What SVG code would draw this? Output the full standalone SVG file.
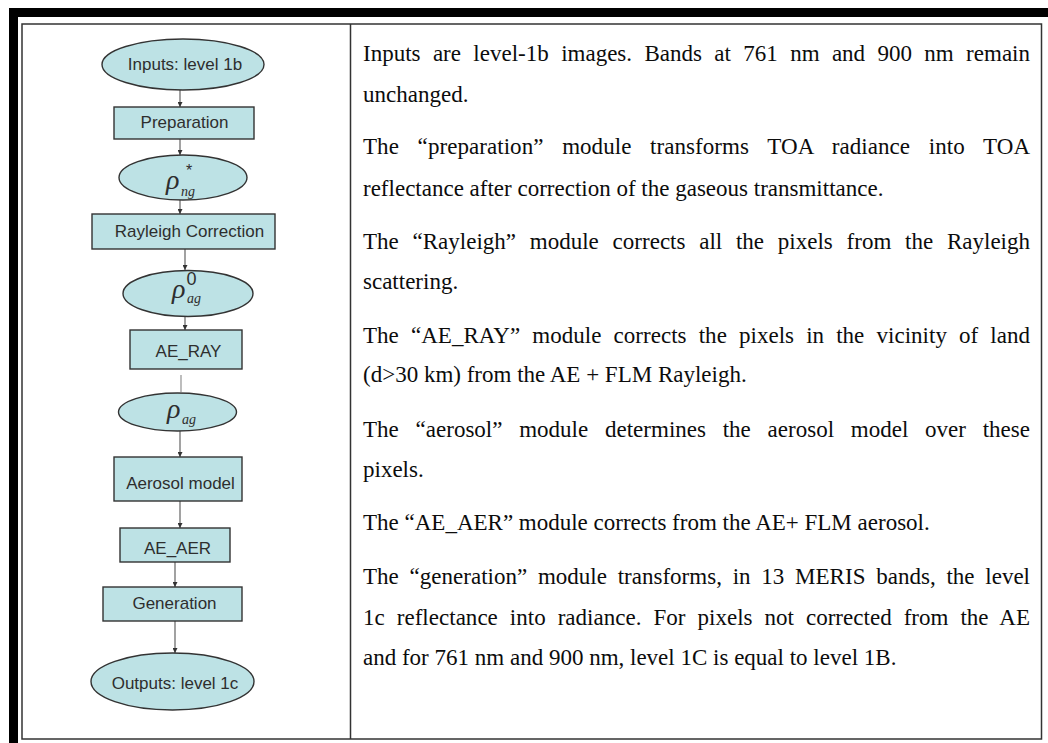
<svg xmlns="http://www.w3.org/2000/svg" width="1048" height="743" viewBox="0 0 1048 743">
  <style>
    .node { fill: #bde2e5; stroke: #333; stroke-width: 1.4; }
    .lbl { font-family: "Liberation Sans", Arial, sans-serif; font-size: 17px; fill: #2e2e2e; text-anchor: middle; }
    .rho { font-family: "Liberation Serif", "Times New Roman", serif; font-style: italic; fill: #2e2e2e; }
    .sup { font-family: "Liberation Sans", Arial, sans-serif; fill: #2e2e2e; }
    .flow { stroke: #555; stroke-width: 1.1; fill: none; }
    .desc { font-family: "Liberation Serif", "Times New Roman", serif; font-size: 23px; fill: #0c0c0c; }
  </style>
  <defs>
    <marker id="tip" viewBox="0 0 6 6" refX="6" refY="3" markerWidth="5" markerHeight="5" markerUnits="userSpaceOnUse" orient="auto">
      <path d="M0,0 L6,3 L0,6 Z" fill="#333"/>
    </marker>
  </defs>

  <rect width="1048" height="743" fill="#ffffff"/>

  <!-- page frame -->
  <g id="frame">
    <rect x="9" y="8" width="1039" height="9" fill="#000"/>
    <rect x="9" y="8" width="9" height="735" fill="#000"/>
    <rect x="22" y="24" width="1019.5" height="715" fill="none" stroke="#333" stroke-width="1.5"/>
    <line x1="350.5" y1="24" x2="350.5" y2="739" stroke="#333" stroke-width="1.5"/>
  </g>

  <!-- flow connectors -->
  <g id="connectors">
    <line class="flow" x1="180" y1="90" x2="180" y2="107" marker-end="url(#tip)"/>
    <line class="flow" x1="180" y1="139" x2="180" y2="155" marker-end="url(#tip)"/>
    <line class="flow" x1="180" y1="200" x2="180" y2="214" marker-end="url(#tip)"/>
    <line class="flow" x1="185" y1="249" x2="185" y2="270" marker-end="url(#tip)"/>
    <line class="flow" x1="185" y1="316" x2="185" y2="330" marker-end="url(#tip)"/>
    <line x1="181" y1="375" x2="181" y2="392" stroke="#888" stroke-width="1.1"/>
    <line class="flow" x1="180" y1="431" x2="180" y2="457" marker-end="url(#tip)"/>
    <line class="flow" x1="180" y1="501" x2="180" y2="528" marker-end="url(#tip)"/>
    <line class="flow" x1="175" y1="562" x2="175" y2="587" marker-end="url(#tip)"/>
    <line class="flow" x1="175" y1="621" x2="175" y2="653" marker-end="url(#tip)"/>
  </g>

  <!-- flowchart nodes -->
  <g id="inputs">
    <ellipse class="node" cx="183" cy="64.5" rx="81" ry="25.5"/>
    <text class="lbl" x="185" y="70">Inputs: level 1b</text>
  </g>
  <g id="preparation">
    <rect class="node" x="114" y="107" width="140" height="32"/>
    <text class="lbl" x="184.5" y="128">Preparation</text>
  </g>
  <g id="rho-ng">
    <ellipse class="node" cx="183" cy="177.5" rx="64" ry="22.5"/>
    <text class="rho" x="166" y="188.5" font-size="28">ρ</text>
    <text class="rho" x="181" y="196" font-size="14">ng</text>
    <text class="sup" x="186" y="176" font-size="16">*</text>
  </g>
  <g id="rayleigh">
    <rect class="node" x="92" y="214" width="183" height="35"/>
    <text class="lbl" x="189.5" y="237">Rayleigh Correction</text>
  </g>
  <g id="rho-ag0">
    <ellipse class="node" cx="188" cy="293.5" rx="65" ry="23"/>
    <text class="rho" x="172" y="297.5" font-size="28">ρ</text>
    <text class="rho" x="187" y="303" font-size="14">ag</text>
    <text class="sup" x="186.5" y="285" font-size="18">0</text>
  </g>
  <g id="ae-ray">
    <rect class="node" x="130" y="330" width="112" height="39"/>
    <text class="lbl" x="188.5" y="357">AE_RAY</text>
  </g>
  <g id="rho-ag">
    <ellipse class="node" cx="177.5" cy="412" rx="59" ry="19"/>
    <text class="rho" x="167" y="417.5" font-size="28">ρ</text>
    <text class="rho" x="182" y="424" font-size="14">ag</text>
  </g>
  <g id="aerosol">
    <rect class="node" x="114" y="457" width="128" height="44"/>
    <text class="lbl" x="180.5" y="489">Aerosol model</text>
  </g>
  <g id="ae-aer">
    <rect class="node" x="120" y="528" width="110" height="34"/>
    <text class="lbl" x="177.5" y="554">AE_AER</text>
  </g>
  <g id="generation">
    <rect class="node" x="103" y="587" width="139" height="34"/>
    <text class="lbl" x="174.5" y="609">Generation</text>
  </g>
  <g id="outputs">
    <ellipse class="node" cx="172.5" cy="681.5" rx="81.5" ry="28.5"/>
    <text class="lbl" x="175" y="689">Outputs: level 1c</text>
  </g>

  <!-- module descriptions (justified column) -->
  <g id="descriptions" class="desc">
    <text x="363" y="61" word-spacing="6.6" textLength="667" lengthAdjust="spacing">Inputs are level-1b images. Bands at 761 nm and 900 nm remain</text>
    <text x="363" y="102">unchanged.</text>
    <text x="363" y="154" word-spacing="12.9" textLength="667" lengthAdjust="spacing">The “preparation” module transforms TOA radiance into TOA</text>
    <text x="363" y="196">reflectance after correction of the gaseous transmittance.</text>
    <text x="363" y="249" word-spacing="8" textLength="667" lengthAdjust="spacing">The “Rayleigh” module corrects all the pixels from the Rayleigh</text>
    <text x="363" y="289">scattering.</text>
    <text x="363" y="343" word-spacing="6.3" textLength="667" lengthAdjust="spacing">The “AE_RAY” module corrects the pixels in the vicinity of land</text>
    <text x="363" y="382">(d&gt;30 km) from the AE + FLM Rayleigh.</text>
    <text x="363" y="437" word-spacing="11" textLength="667" lengthAdjust="spacing">The “aerosol” module determines the aerosol model over these</text>
    <text x="363" y="477">pixels.</text>
    <text x="363" y="530">The “AE_AER” module corrects from the AE+ FLM aerosol.</text>
    <text x="363" y="584" word-spacing="5" textLength="667" lengthAdjust="spacing">The “generation” module transforms, in 13 MERIS bands, the level</text>
    <text x="363" y="625" word-spacing="6.2" textLength="667" lengthAdjust="spacing">1c reflectance into radiance. For pixels not corrected from the AE</text>
    <text x="363" y="665">and for 761 nm and 900 nm, level 1C is equal to level 1B.</text>
  </g>
</svg>
